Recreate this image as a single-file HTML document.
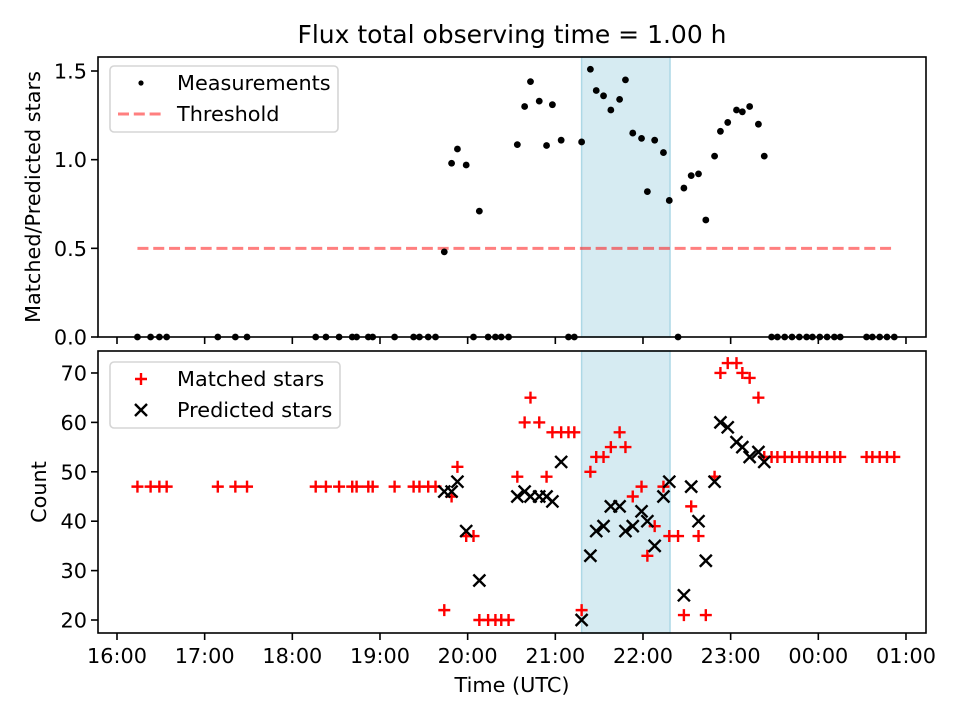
<!DOCTYPE html>
<html><head><meta charset="utf-8"><style>
html,body{margin:0;padding:0;background:#fff;}
svg{display:block;font-family:"DejaVu Sans","Liberation Sans",sans-serif;}
</style></head><body>
<svg id="chart" width="960" height="720" viewBox="0 0 960 720" xmlns="http://www.w3.org/2000/svg">
<rect x="0" y="0" width="960" height="720" fill="#fff"/>
<text x="512" y="43" font-size="25" text-anchor="middle" fill="#000">Flux total observing time = 1.00 h</text>
<g id="topPanel"></g>
<g id="botPanel"></g>
</svg>
<script>
// minutes after 16:00 UTC
const times = [14,23,29,34,69,81,89,136,143,152,161,164,172,175,190,203,207,213,218,224,229,233,239,244,248,254,259,263,268,274,279,283,289,294,298,304,309,313,318,324,328,333,338,344,348,353,359,363,368,374,378,384,388,393,398,403,409,413,418,424,428,433,439,443,448,452,457,462,467,472,476,481,486,491,495,513,517,522,527,532];
const matched = [47,47,47,47,47,47,47,47,47,47,47,47,47,47,47,47,47,47,47,22,45,51,37,37,20,20,20,20,20,49,60,65,60,49,58,58,58,58,22,50,53,53,55,58,55,45,47,33,39,47,37,37,21,43,37,21,49,70,72,72,70,69,65,53,53,53,53,53,53,53,53,53,53,53,53,53,53,53,53,53];
const predicted = [null,null,null,null,null,null,null,null,null,null,null,null,null,null,null,null,null,null,null,46,46,48,38,null,28,null,null,null,null,45,46,45,45,45,44,52,null,null,20,33,38,39,43,43,38,39,42,40,35,45,48,null,25,47,40,32,48,60,59,56,55,53,54,52,null,null,null,null,null,null,null,null,null,null,null,null,null,null,null,null];
const ratio = [0,0,0,0,0,0,0,0,0,0,0,0,0,0,0,0,0,0,0,0.48,0.98,1.06,0.97,0,0.71,0,0,0,0,1.085,1.30,1.44,1.33,1.08,1.31,1.11,0,0,1.10,1.51,1.39,1.36,1.28,1.34,1.45,1.15,1.12,0.82,1.11,1.04,0.77,0,0.84,0.91,0.92,0.66,1.02,1.16,1.21,1.28,1.27,1.30,1.20,1.02,0,0,0,0,0,0,0,0,0,0,0,0,0,0,0,0];
const threshold = 0.5;
const shadeStart = 318, shadeEnd = 378.5;
const xTickMinutes = [0,60,120,180,240,300,360,420,480,540];
const xTickLabels = ["16:00","17:00","18:00","19:00","20:00","21:00","22:00","23:00","00:00","01:00"];
const topTicks = [0,0.5,1.0,1.5];
const topTickLabels = ["0.0","0.5","1.0","1.5"];
const botTicks = [20,30,40,50,60,70];

const NS="http://www.w3.org/2000/svg";
const L=98,R=926, T1=57,B1=337, T2=351,B2=633;
const FS=20.8;
const xMin=-13, xMax=553.7;
const X=m=>L+(m-xMin)/(xMax-xMin)*(R-L);
const Y1=v=>B1-(v-0)/(1.579-0)*(B1-T1);
const Y2=v=>B2-(v-17.37)/(74.45-17.37)*(B2-T2);
function el(tag,attrs,parent){const e=document.createElementNS(NS,tag);for(const k in attrs)e.setAttribute(k,attrs[k]);parent.appendChild(e);return e;}
const topG=document.getElementById('topPanel'), botG=document.getElementById('botPanel');

function frame(g,T,B,yt,Yf,labels,ylabel,showX,nm){
  const s=el('rect',{x:X(shadeStart),y:T,width:X(shadeEnd)-X(shadeStart),height:B-T,fill:'#add8e6','fill-opacity':0.5,stroke:'#add8e6','stroke-width':1.5},g);
  
  
  yt.forEach((v,i)=>{
    const y=Yf(v);
    el('line',{x1:L-7,x2:L,y1:y,y2:y,stroke:'#000','stroke-width':1.6},g);
    const t=el('text',{x:L-11,y:y+7.5,'font-size':FS,'text-anchor':'end'},g);
    t.textContent=labels?labels[i]:String(v);
    
    
  });
  xTickMinutes.forEach((m,i)=>{
    const x=X(m);
    el('line',{x1:x,x2:x,y1:B,y2:B+7,stroke:'#000','stroke-width':1.6},g);
    if(showX){
      const t=el('text',{x:x,y:B+30,'font-size':FS,'text-anchor':'middle'},g);
      t.textContent=xTickLabels[i];
      
      
    }
  });
  const yl=el('text',{x:0,y:0,'font-size':FS,'text-anchor':'middle',transform:`translate(${nm==='top'?40:46},${(T+B)/2}) rotate(-90)`},g);
  yl.textContent=ylabel;
  
  
}
frame(topG,T1,B1,topTicks,Y1,topTickLabels,'Matched/Predicted stars',false,'top');
frame(botG,T2,B2,botTicks,Y2,null,'Count',true,'bottom');

const th=el('line',{x1:X(times[0]),x2:X(times[times.length-1]),y1:Y1(threshold),y2:Y1(threshold),stroke:'#ff0000','stroke-opacity':0.5,'stroke-width':3,'stroke-dasharray':'11,4.8'},topG);


times.forEach((m,i)=>{
  const c=el('circle',{cx:X(m),cy:Y1(ratio[i]),r:3.4,fill:'#000'},topG);
  
  
});
times.forEach((m,i)=>{
  const x=X(m),y=Y2(matched[i]);
  const p=el('path',{d:`M${x-6},${y}H${x+6}M${x},${y-6}V${y+6}`,stroke:'#ff0000','stroke-width':2.4,fill:'none'},botG);
  
  
});
times.forEach((m,i)=>{
  if(predicted[i]==null)return;
  const x=X(m),y=Y2(predicted[i]),d=6;
  const p=el('path',{d:`M${x-d},${y-d}L${x+d},${y+d}M${x-d},${y+d}L${x+d},${y-d}`,stroke:'#000','stroke-width':2.4,fill:'none'},botG);
  
  
});
[[T1,B1,topG],[T2,B2,botG]].forEach(([T,B,g])=>{
  const r=el('rect',{x:L,y:T,width:R-L,height:B-T,fill:'none',stroke:'#000','stroke-width':1.6},g);
  
  
});
const xl=el('text',{x:(L+R)/2,y:692,'font-size':FS,'text-anchor':'middle'},botG);
xl.textContent='Time (UTC)';



function legend(g,y0,w,entries,nm){
  const lg=el('g',{},g);
  
  
  el('rect',{x:110,y:y0,width:w,height:66,rx:4,fill:'#fff','fill-opacity':0.8,stroke:'#d5d5d5','stroke-width':1.6},lg);
  entries.forEach((e,i)=>{
    const cy=y0+17+i*31;
    const sx=141;
    if(e.t==='dot')el('circle',{cx:sx,cy:cy,r:2.6,fill:'#000'},lg);
    if(e.t==='dash')el('line',{x1:118,x2:161,y1:cy,y2:cy,stroke:'#ff0000','stroke-opacity':0.5,'stroke-width':3,'stroke-dasharray':'11,4.8'},lg);
    if(e.t==='plus')el('path',{d:`M${sx-6},${cy}H${sx+6}M${sx},${cy-6}V${cy+6}`,stroke:'#ff0000','stroke-width':2.4},lg);
    if(e.t==='x')el('path',{d:`M${sx-6},${cy-6}L${sx+6},${cy+6}M${sx-6},${cy+6}L${sx+6},${cy-6}`,stroke:'#000','stroke-width':2.4},lg);
    const t=el('text',{x:177,y:cy+7,'font-size':FS},lg);
    t.textContent=e.label;
    
    
  });
}
legend(topG,66,228,[{t:'dot',label:'Measurements'},{t:'dash',label:'Threshold'}],'top-legend');
legend(botG,362,230,[{t:'plus',label:'Matched stars'},{t:'x',label:'Predicted stars'}],'bottom-legend');
</script>
</body></html>
